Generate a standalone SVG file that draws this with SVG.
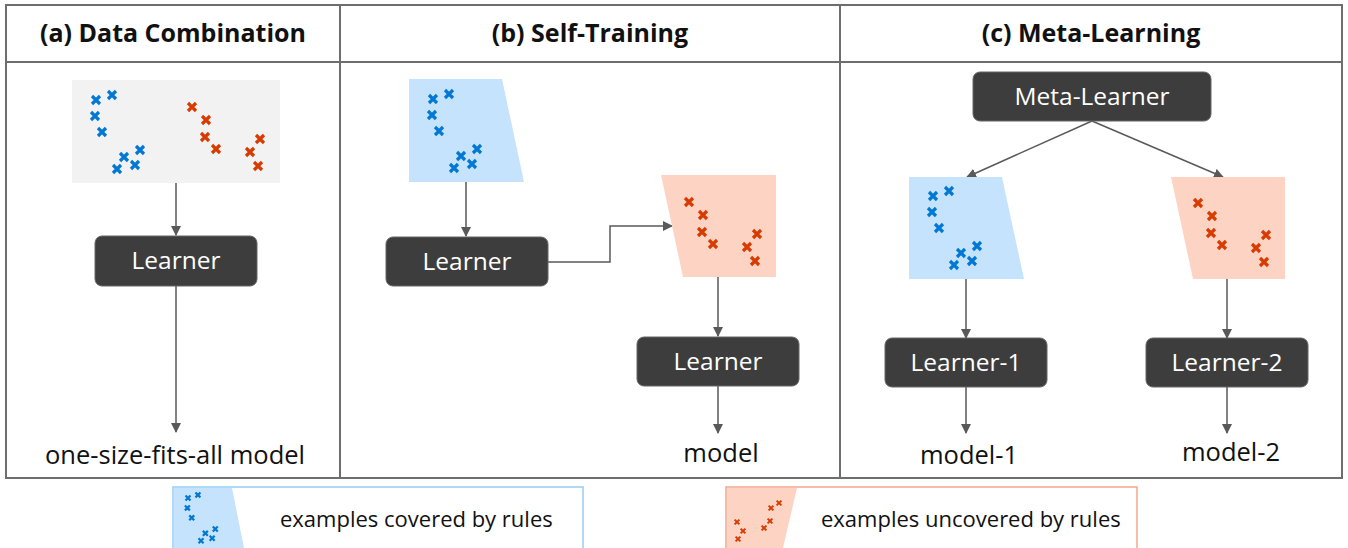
<svg xmlns="http://www.w3.org/2000/svg" xmlns:xlink="http://www.w3.org/1999/xlink" width="1348" height="548" viewBox="0 0 1348 548">
<style>
.frame{fill:none;stroke:#6e6e6e;stroke-width:2}
.hdr{font-family:"Open Sans","Noto Sans",sans-serif;font-weight:bold;font-size:25px;fill:#111;text-anchor:middle}
.box{fill:#3d3d3d;stroke:#666;stroke-width:1}
.btxt{font-family:"Open Sans","Noto Sans",sans-serif;font-size:24.5px;fill:#fff;text-anchor:middle}
.lbl{font-family:"Open Sans","Noto Sans",sans-serif;font-size:25.5px;fill:#111;text-anchor:middle}
.leg{font-family:"Open Sans","Noto Sans",sans-serif;font-size:22px;fill:#111}
.conn{fill:none;stroke:#595959;stroke-width:1.5}
.bx{stroke:#0078d4;stroke-width:3.2;fill:none}
.rx{stroke:#d83b01;stroke-width:3.2;fill:none}
.blue{fill:#c5e3fc}
.red{fill:#fdd4c3}
</style>
<defs>
<path id="x" d="M-4,-4L4,4M-4,4L4,-4"/>
<g id="bluepat">
<use xlink:href="#x" x="0" y="0"/><use xlink:href="#x" x="16" y="-5"/><use xlink:href="#x" x="-1" y="16"/><use xlink:href="#x" x="6" y="32"/>
<use xlink:href="#x" x="28" y="57"/><use xlink:href="#x" x="44" y="50"/><use xlink:href="#x" x="21" y="69"/><use xlink:href="#x" x="39" y="65"/>
</g>
<g id="redpat">
<use xlink:href="#x" x="0" y="0"/><use xlink:href="#x" x="14" y="13"/><use xlink:href="#x" x="13" y="30"/><use xlink:href="#x" x="24" y="42"/>
<use xlink:href="#x" x="68" y="32"/><use xlink:href="#x" x="58" y="45"/><use xlink:href="#x" x="66" y="59"/>
</g>
<marker id="arr" viewBox="0 0 10 10" refX="9" refY="5" markerWidth="10" markerHeight="10" markerUnits="userSpaceOnUse" orient="auto">
<path d="M0,0L10,5L0,10z" fill="#595959"/>
</marker>
</defs>

<g id="frame">
<rect class="frame" x="6" y="5" width="1336" height="473"/>
<line class="frame" x1="6" y1="62" x2="1342" y2="62"/>
<line class="frame" x1="340" y1="5" x2="340" y2="478"/>
<line class="frame" x1="840" y1="5" x2="840" y2="478"/>
<text class="hdr" x="173" y="42">(a) Data Combination</text>
<text class="hdr" x="590" y="42">(b) Self-Training</text>
<text class="hdr" x="1091" y="42">(c) Meta-Learning</text>
</g>

<g id="connectors">
<line class="conn" x1="176" y1="183" x2="176" y2="235" marker-end="url(#arr)"/>
<line class="conn" x1="176" y1="286" x2="176" y2="432" marker-end="url(#arr)"/>
<line class="conn" x1="466" y1="182" x2="466" y2="236" marker-end="url(#arr)"/>
<polyline class="conn" points="548,262 610,262 610,226 672,226" marker-end="url(#arr)"/>
<line class="conn" x1="718" y1="277" x2="718" y2="336" marker-end="url(#arr)"/>
<line class="conn" x1="718" y1="386" x2="718" y2="433" marker-end="url(#arr)"/>
<line class="conn" x1="1092" y1="121" x2="967" y2="177" marker-end="url(#arr)"/>
<line class="conn" x1="1092" y1="121" x2="1223" y2="177" marker-end="url(#arr)"/>
<line class="conn" x1="966" y1="279" x2="966" y2="338" marker-end="url(#arr)"/>
<line class="conn" x1="966" y1="387" x2="966" y2="433" marker-end="url(#arr)"/>
<line class="conn" x1="1227" y1="279" x2="1227" y2="338" marker-end="url(#arr)"/>
<line class="conn" x1="1227" y1="387" x2="1227" y2="433" marker-end="url(#arr)"/>
</g>

<g id="data-a">
<rect x="72" y="80" width="208" height="103" fill="#f2f2f2"/>
<use xlink:href="#bluepat" class="bx" transform="translate(96,100)"/>
<use xlink:href="#redpat" class="rx" transform="translate(192,107)"/>
</g>
<g id="learner-a">
<rect class="box" x="95" y="236" width="162" height="50" rx="7"/>
<text class="btxt" x="176" y="269">Learner</text>
</g>
<g id="model-a"><text class="lbl" x="175" y="464">one-size-fits-all model</text></g>

<g id="covered-b">
<polygon class="blue" points="409,79 502,79 524,182 409,182"/>
<use xlink:href="#bluepat" class="bx" transform="translate(433,99)"/>
</g>
<g id="learner-b">
<rect class="box" x="386" y="237" width="162" height="49" rx="7"/>
<text class="btxt" x="467" y="270">Learner</text>
</g>
<g id="uncovered-b">
<polygon class="red" points="661,175 776,175 776,277 683,277"/>
<use xlink:href="#redpat" class="rx" transform="translate(689,202)"/>
</g>
<g id="learner-b2">
<rect class="box" x="637" y="337" width="162" height="49" rx="7"/>
<text class="btxt" x="718" y="370">Learner</text>
</g>
<g id="model-b"><text class="lbl" x="721" y="462">model</text></g>

<g id="meta-learner">
<rect class="box" x="973" y="72" width="238" height="49" rx="7"/>
<text class="btxt" x="1092" y="105">Meta-Learner</text>
</g>
<g id="covered-c">
<polygon class="blue" points="909,177 1002,177 1024,279 909,279"/>
<use xlink:href="#bluepat" class="bx" transform="translate(933,196)"/>
</g>
<g id="uncovered-c">
<polygon class="red" points="1171,177 1285,177 1285,279 1193,279"/>
<use xlink:href="#redpat" class="rx" transform="translate(1198,203)"/>
</g>
<g id="learner-1">
<rect class="box" x="885" y="338" width="162" height="49" rx="7"/>
<text class="btxt" x="966" y="371">Learner-1</text>
</g>
<g id="learner-2">
<rect class="box" x="1146" y="338" width="162" height="49" rx="7"/>
<text class="btxt" x="1227" y="371">Learner-2</text>
</g>
<g id="model-1"><text class="lbl" x="969" y="464">model-1</text></g>
<g id="model-2"><text class="lbl" x="1231" y="461">model-2</text></g>

<g id="legend-covered">
<rect x="173" y="487" width="410" height="70" fill="#fff" stroke="#95cdf6" stroke-width="1.5"/>
<polygon class="blue" points="174,488 232,488 244,548 174,548"/>
<use xlink:href="#bluepat" class="bx" style="stroke-width:3.6" transform="translate(188,498) scale(0.62)"/>
<text class="leg" x="280" y="527">examples covered by rules</text>
</g>
<g id="legend-uncovered">
<rect x="726" y="487" width="411" height="70" fill="#fff" stroke="#f5a78c" stroke-width="1.5"/>
<polygon class="red" points="727,488 797,488 783,548 727,548"/>
<g class="rx" style="stroke-width:3.4">
<use xlink:href="#x" transform="translate(737,522) scale(0.6)"/>
<use xlink:href="#x" transform="translate(743,531) scale(0.6)"/>
<use xlink:href="#x" transform="translate(738,539) scale(0.6)"/>
<use xlink:href="#x" transform="translate(764,528) scale(0.6)"/>
<use xlink:href="#x" transform="translate(770,521) scale(0.6)"/>
<use xlink:href="#x" transform="translate(771,508) scale(0.6)"/>
<use xlink:href="#x" transform="translate(779,503) scale(0.6)"/>
</g>
<text class="leg" x="821" y="527">examples uncovered by rules</text>
</g>
</svg>
